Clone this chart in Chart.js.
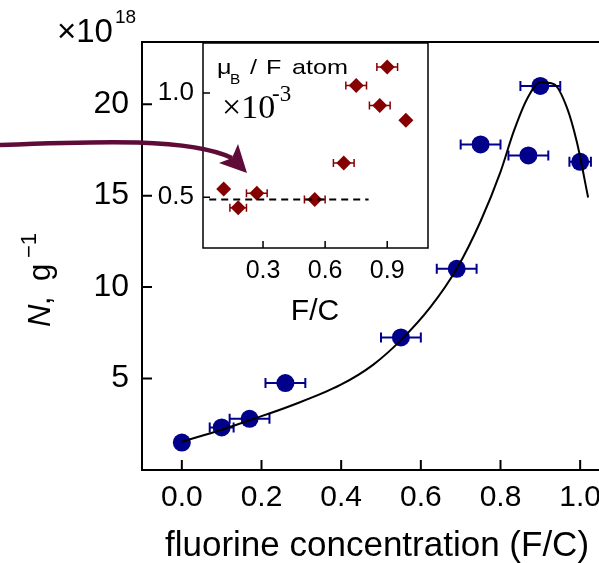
<!DOCTYPE html>
<html>
<head>
<meta charset="utf-8">
<script src="https://cdn.jsdelivr.net/npm/chart.js@4.4.0/dist/chart.umd.min.js"></script>
<style>
html, body { margin:0; padding:0; overflow:hidden; background:#fff; }
#wrap { position:relative; width:640px; height:563px; }
canvas { position:absolute; left:0; top:0; }
</style>
</head>
<body>
<div id="wrap">
  <canvas id="mainChart" width="640" height="563"></canvas>
  <canvas id="insetChart" width="640" height="563"></canvas>
</div>
<script>
// main plot: N per gram vs F/C (values in units of 1e18)
const mainX    = [0.00, 0.10, 0.17, 0.26, 0.55, 0.69, 0.75, 0.87, 0.90, 1.00];
const mainY    = [1.50, 2.33, 2.80, 4.75, 7.25, 11.0, 17.8, 17.2, 21.0, 16.85];
const mainXErr = [0,    0.03, 0.05, 0.05, 0.05, 0.05, 0.05, 0.05, 0.05, 0.027];

// fitted curve
const fitX = [0, 0.10, 0.17, 0.272, 0.398, 0.48, 0.55, 0.624, 0.69, 0.75, 0.80, 0.833, 0.867, 0.90, 0.934, 0.967, 0.992, 1.02];
const fitY = [1.55, 2.2, 2.72, 3.5, 4.65, 5.75, 7.1, 8.9, 11.0, 13.6, 16.3, 18.5, 20.3, 21.2, 21.1, 19.8, 17.9, 14.9];

const mainXTicks = [0.0, 0.2, 0.4, 0.6, 0.8, 1.0];
const mainYTicks = [5, 10, 15, 20];

// inset: mu_B per F atom (x1e-3)
const insetX    = [0.11, 0.18, 0.27, 0.55, 0.69, 0.75, 0.864, 0.90, 0.99];
const insetY    = [0.54, 0.45, 0.52, 0.49, 0.665, 1.036, 0.94, 1.125, 0.87];
const insetXErr = [0,    0.04, 0.05, 0.05, 0.05, 0.05, 0.05, 0.05, 0];
const dashX = [0.04, 0.81];
const dashY = [0.49, 0.49];

const insetXTicks = [0.3, 0.6, 0.9];
const insetYTicks = [0.5, 1.0];

const SANS = '"Liberation Sans", Arial, sans-serif';
const SERIF = '"Liberation Serif", "Times New Roman", serif';
const NAVY = '#00008b';
const DARKRED = '#850000';

function pts(xs, ys) { return xs.map((x, i) => ({x: x, y: ys[i]})); }

// horizontal error bars drawn through the chart's own scales
const errorBars = {
  id: 'errorBars',
  beforeDatasetsDraw(chart, args, opts) {
    const ctx = chart.ctx, xs = chart.scales.x, ys = chart.scales.y;
    ctx.save();
    ctx.strokeStyle = opts.color;
    ctx.lineWidth = opts.width;
    opts.xs.forEach((x, i) => {
      const e = opts.err[i];
      if (!e) return;
      const y = ys.getPixelForValue(opts.ys[i]);
      const x0 = xs.getPixelForValue(x - e), x1 = xs.getPixelForValue(x + e);
      ctx.beginPath();
      ctx.moveTo(x0, y); ctx.lineTo(x1, y);
      ctx.moveTo(x0, y - opts.cap); ctx.lineTo(x0, y + opts.cap);
      ctx.moveTo(x1, y - opts.cap); ctx.lineTo(x1, y + opts.cap);
      ctx.stroke();
    });
    ctx.restore();
  }
};

// box frame + inward tick marks
const frame = {
  id: 'frame',
  afterDraw(chart, args, opts) {
    const ctx = chart.ctx, a = chart.chartArea;
    ctx.save();
    ctx.strokeStyle = '#000';
    ctx.lineWidth = opts.width;
    ctx.strokeRect(a.left, a.top, a.right - a.left, a.bottom - a.top);
    ctx.beginPath();
    chart.scales.x.ticks.forEach(t => {
      const px = chart.scales.x.getPixelForValue(t.value);
      ctx.moveTo(px, a.bottom); ctx.lineTo(px, a.bottom - opts.len);
    });
    chart.scales.y.ticks.forEach(t => {
      const py = chart.scales.y.getPixelForValue(t.value);
      ctx.moveTo(a.left, py); ctx.lineTo(a.left + opts.len, py);
    });
    ctx.stroke();
    ctx.restore();
  }
};

function piece(ctx, text, x, y, font, sx) {
  ctx.save();
  ctx.translate(x, y);
  ctx.scale(sx || 1, 1);
  ctx.font = font;
  ctx.fillText(text, 0, 0);
  ctx.restore();
}

const mainTexts = {
  id: 'mainTexts',
  afterDraw(chart) {
    const ctx = chart.ctx;
    ctx.save();
    ctx.fillStyle = '#000';
    ctx.textBaseline = 'alphabetic';
    ctx.textAlign = 'left';
    // x10^18
    piece(ctx, '\u00d710', 57, 42, '33px ' + SANS);
    piece(ctx, '18', 115, 23, '19px ' + SANS);
    // x axis title
    ctx.textAlign = 'center';
    piece(ctx, 'fluorine concentration (F/C)', 377, 556, '35px ' + SANS);
    ctx.textAlign = 'left';
    // y axis title, rotated
    ctx.translate(50, 327);
    ctx.rotate(-Math.PI / 2);
    piece(ctx, 'N', 0, 0, 'italic 31px ' + SANS);
    piece(ctx, ',', 22, 0, '31px ' + SANS);
    piece(ctx, 'g', 46, 0, '31px ' + SANS);
    piece(ctx, '\u22121', 69, -14, '22px ' + SANS);
    ctx.restore();
  }
};

const insetTexts = {
  id: 'insetTexts',
  afterDraw(chart) {
    const ctx = chart.ctx;
    ctx.save();
    ctx.fillStyle = '#000';
    ctx.textBaseline = 'alphabetic';
    ctx.textAlign = 'left';
    piece(ctx, '\u03bc', 217, 74, '21px ' + SANS, 1.2);
    piece(ctx, 'B', 230, 84, '14px ' + SANS, 1.1);
    piece(ctx, '/', 250, 74, '21px ' + SANS, 1.2);
    piece(ctx, 'F', 266, 74, '21px ' + SANS, 1.2);
    piece(ctx, 'atom', 292, 74, '21px ' + SANS, 1.2);
    piece(ctx, '\u00d710', 222, 118, '34px ' + SERIF);
    piece(ctx, '-3', 272, 101, '23px ' + SERIF);
    ctx.textAlign = 'center';
    piece(ctx, 'F/C', 315, 320, '30px ' + SANS);

    // arrow pointing into the inset
    ctx.strokeStyle = '#5f0b38';
    ctx.fillStyle = '#5f0b38';
    ctx.lineWidth = 4.5;
    ctx.beginPath();
    ctx.moveTo(0, 145);
    ctx.bezierCurveTo(100, 141, 190, 138, 232, 158);
    ctx.stroke();
    ctx.beginPath();
    ctx.moveTo(247, 173);
    ctx.lineTo(238, 144);
    ctx.lineTo(232, 158);
    ctx.lineTo(219, 163);
    ctx.closePath();
    ctx.fill();
    ctx.restore();
  }
};

var mainChart = new Chart(document.getElementById('mainChart'), {
  type: 'scatter',
  data: {
    datasets: [{
      label: 'fit',
      data: pts(fitX, fitY),
      showLine: true,
      borderColor: '#000',
      borderWidth: 2,
      pointRadius: 0,
      cubicInterpolationMode: 'monotone',
      fill: false
    }, {
      label: 'N',
      data: pts(mainX, mainY),
      pointRadius: 9,
      pointBackgroundColor: NAVY,
      pointBorderWidth: 0
    }]
  },
  options: {
    responsive: false,
    animation: false,
    layout: { padding: { left: 0, top: 42, right: 20, bottom: 0 } },
    plugins: {
      legend: { display: false },
      tooltip: { enabled: false },
      errorBars: { xs: mainX, ys: mainY, err: mainXErr, color: NAVY, width: 2, cap: 5 },
      frame: { width: 2, len: 10 }
    },
    scales: {
      x: {
        type: 'linear', min: -0.1, max: 1.1,
        afterBuildTicks: s => { s.ticks = mainXTicks.map(v => ({value: v})); },
        afterFit: s => { s.height = 93; },
        grid: { display: false, drawTicks: false },
        border: { display: false },
        ticks: {
          padding: 10, color: '#000', autoSkip: false, maxRotation: 0,
          font: { family: SANS, size: 30 },
          callback: v => v.toFixed(1)
        }
      },
      y: {
        type: 'linear', min: 0, max: 23.4,
        afterBuildTicks: s => { s.ticks = mainYTicks.map(v => ({value: v})); },
        afterFit: s => { s.width = 142; },
        grid: { display: false, drawTicks: false },
        border: { display: false },
        ticks: {
          padding: 13, color: '#000', autoSkip: false,
          font: { family: SANS, size: 32 },
          callback: v => String(v)
        }
      }
    }
  },
  plugins: [errorBars, frame, mainTexts]
});

var insetChart = new Chart(document.getElementById('insetChart'), {
  type: 'scatter',
  data: {
    datasets: [{
      label: 'dash',
      data: pts(dashX, dashY),
      showLine: true,
      borderColor: '#000',
      borderWidth: 2,
      borderDash: [7, 5],
      pointRadius: 0,
      fill: false
    }, {
      label: 'muB',
      data: pts(insetX, insetY),
      pointStyle: 'rectRot',
      pointRadius: 7.5,
      pointBackgroundColor: DARKRED,
      pointBorderWidth: 0
    }]
  },
  options: {
    responsive: false,
    animation: false,
    layout: { padding: { left: 0, top: 43, right: 212, bottom: 0 } },
    plugins: {
      legend: { display: false },
      tooltip: { enabled: false },
      errorBars: { xs: insetX, ys: insetY, err: insetXErr, color: DARKRED, width: 1.5, cap: 4 },
      frame: { width: 1.5, len: 7 }
    },
    scales: {
      x: {
        type: 'linear', min: 0.01, max: 1.097,
        afterBuildTicks: s => { s.ticks = insetXTicks.map(v => ({value: v})); },
        afterFit: s => { s.height = 315; },
        grid: { display: false, drawTicks: false },
        border: { display: false },
        ticks: {
          padding: 8, color: '#000', autoSkip: false, maxRotation: 0,
          font: { family: SANS, size: 25 },
          callback: v => v.toFixed(1)
        }
      },
      y: {
        type: 'linear', min: 0.257, max: 1.24,
        afterBuildTicks: s => { s.ticks = insetYTicks.map(v => ({value: v})); },
        afterFit: s => { s.width = 203; },
        grid: { display: false, drawTicks: false },
        border: { display: false },
        ticks: {
          padding: 9, color: '#000', autoSkip: false,
          font: { family: SANS, size: 26 },
          callback: v => v.toFixed(1)
        }
      }
    }
  },
  plugins: [errorBars, frame, insetTexts]
});
</script>
</body>
</html>
